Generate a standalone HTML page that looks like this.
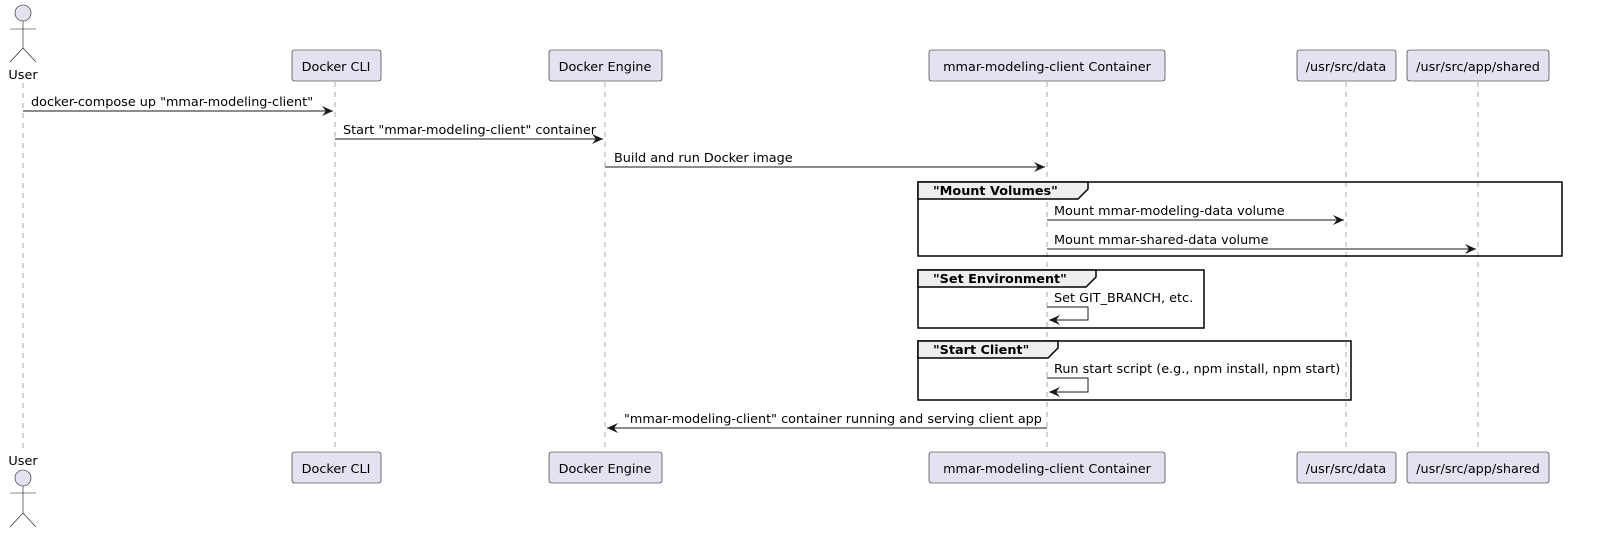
<!DOCTYPE html>
<html><head><meta charset="utf-8"><style>
html,body{margin:0;padding:0;background:#fff}
svg{display:block}
text{font-family:"DejaVu Sans","Liberation Sans",sans-serif;font-size:12.8px;fill:#000}
.b{font-weight:bold}
</style></head><body>
<svg width="1599" height="533" viewBox="0 0 1599 533" xmlns="http://www.w3.org/2000/svg">
<defs>
<marker id="a" markerWidth="12" markerHeight="10" refX="11" refY="5" orient="auto" markerUnits="userSpaceOnUse">
<path d="M0,0 L11,5 L0,10 L4,5 Z" fill="#181818"/></marker>
</defs>
<g stroke="#555" stroke-width="0.5" stroke-dasharray="5,5">
<line x1="23" y1="83" x2="23" y2="452"/>
<line x1="335" y1="82" x2="335" y2="452"/>
<line x1="605" y1="82" x2="605" y2="452"/>
<line x1="1047" y1="82" x2="1047" y2="452"/>
<line x1="1346" y1="82" x2="1346" y2="452"/>
<line x1="1478" y1="82" x2="1478" y2="452"/>
</g>
<g fill="#E2E2F0" stroke="#181818" stroke-width="0.6">
<circle cx="23" cy="13" r="8"/>
<path d="M23,21 V48 M10,29 H36 M23,48 L10,62 M23,48 L36,62" fill="none"/>
<circle cx="23" cy="478" r="8"/>
<path d="M23,486 V513 M10,493 H36 M23,513 L10,527 M23,513 L36,527" fill="none"/>
</g>
<text x="23" y="79" text-anchor="middle" font-size="14">User</text>
<text x="23" y="465" text-anchor="middle" font-size="14">User</text>
<g fill="#E2E2F0" stroke="#181818" stroke-width="0.6">
<rect x="292" y="50" width="89" height="31" rx="2.5"/>
<rect x="549" y="50" width="113" height="31" rx="2.5"/>
<rect x="929" y="50" width="236" height="31" rx="2.5"/>
<rect x="1297" y="50" width="99" height="31" rx="2.5"/>
<rect x="1407" y="50" width="142" height="31" rx="2.5"/>
<rect x="292" y="452" width="89" height="31" rx="2.5"/>
<rect x="549" y="452" width="113" height="31" rx="2.5"/>
<rect x="929" y="452" width="236" height="31" rx="2.5"/>
<rect x="1297" y="452" width="99" height="31" rx="2.5"/>
<rect x="1407" y="452" width="142" height="31" rx="2.5"/>
</g>
<g text-anchor="middle">
<text x="336" y="71">Docker CLI</text>
<text x="605" y="71">Docker Engine</text>
<text x="1047" y="71">mmar-modeling-client Container</text>
<text x="1346" y="71">/usr/src/data</text>
<text x="1478" y="71">/usr/src/app/shared</text>
<text x="336" y="473">Docker CLI</text>
<text x="605" y="473">Docker Engine</text>
<text x="1047" y="473">mmar-modeling-client Container</text>
<text x="1346" y="473">/usr/src/data</text>
<text x="1478" y="473">/usr/src/app/shared</text>
</g>
<g stroke="#000" stroke-width="1.5" fill="none">
<rect x="918" y="182" width="644" height="74"/>
<path d="M918,182 H1088 V189 L1078,199 H918 Z" fill="#EEEEEE"/>
<rect x="918" y="270" width="286" height="58"/>
<path d="M918,270 H1096 V277 L1086,287 H918 Z" fill="#EEEEEE"/>
<rect x="918" y="341" width="433" height="59"/>
<path d="M918,341 H1058 V348 L1048,358 H918 Z" fill="#EEEEEE"/>
</g>
<text class="b" x="933" y="195">"Mount Volumes"</text>
<text class="b" x="933" y="283">"Set Environment"</text>
<text class="b" x="933" y="354">"Start Client"</text>
<g stroke="#181818" stroke-width="1" fill="none">
<line x1="23" y1="111" x2="333" y2="111" marker-end="url(#a)"/>
<line x1="335" y1="139" x2="603" y2="139" marker-end="url(#a)"/>
<line x1="605" y1="167" x2="1045" y2="167" marker-end="url(#a)"/>
<line x1="1047" y1="220" x2="1344" y2="220" marker-end="url(#a)"/>
<line x1="1047" y1="249" x2="1476" y2="249" marker-end="url(#a)"/>
<path d="M1047,307 H1088 V320 H1049" marker-end="url(#a)"/>
<path d="M1047,378 H1088 V392 H1049" marker-end="url(#a)"/>
<line x1="1047" y1="428" x2="607" y2="428" marker-end="url(#a)"/>
</g>
<text x="31" y="106">docker-compose up "mmar-modeling-client"</text>
<text x="343" y="134">Start "mmar-modeling-client" container</text>
<text x="614" y="162">Build and run Docker image</text>
<text x="1054" y="215">Mount mmar-modeling-data volume</text>
<text x="1054" y="244">Mount mmar-shared-data volume</text>
<text x="1054" y="302">Set GIT_BRANCH, etc.</text>
<text x="1054" y="373">Run start script (e.g., npm install, npm start)</text>
<text x="624" y="423">"mmar-modeling-client" container running and serving client app</text>
</svg>
</body></html>
